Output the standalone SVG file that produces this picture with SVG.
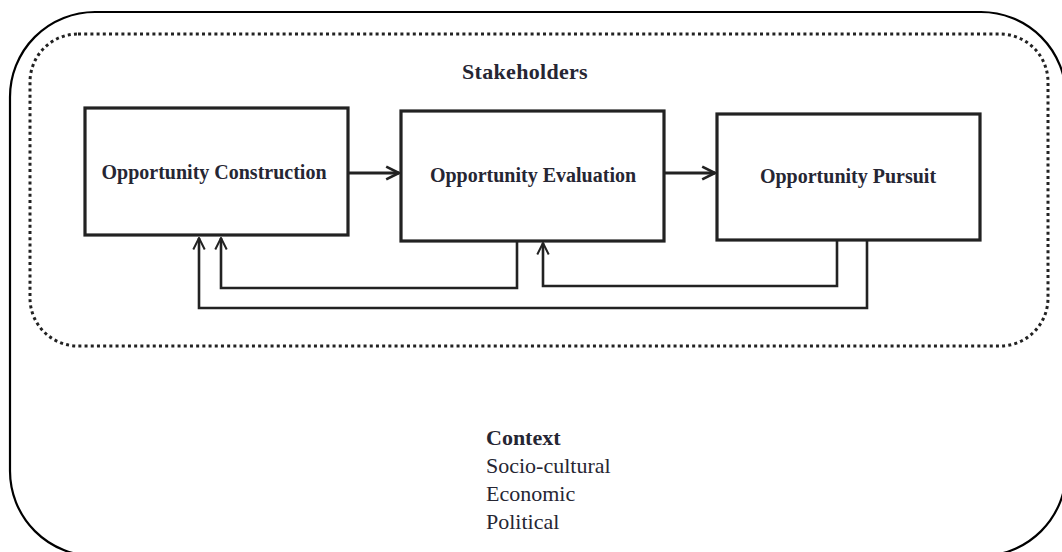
<svg xmlns="http://www.w3.org/2000/svg" width="1062" height="552" viewBox="0 0 1062 552">
  <style>
    .frame { fill: none; stroke: #000; stroke-width: 2.2; }
    .zone { fill: none; stroke: #222; stroke-width: 3; stroke-dasharray: 3 3.2; }
    .box { fill: #fff; stroke: #222; stroke-width: 3.2; }
    .flow { fill: none; stroke: #222; stroke-width: 3.2; }
    .back { fill: none; stroke: #222; stroke-width: 2.6; }
    .label { font-family: "Liberation Serif", "Times New Roman", serif; font-weight: bold; font-size: 20px; fill: #262633; text-anchor: middle; }
    .title { font-family: "Liberation Serif", "Times New Roman", serif; font-weight: bold; font-size: 22px; fill: #262633; }
    .item { font-family: "Liberation Serif", "Times New Roman", serif; font-size: 22px; fill: #262633; }
  </style>
  <defs>
    <marker id="head" viewBox="0 0 10 10" refX="9" refY="5" markerWidth="5" markerHeight="5" markerUnits="strokeWidth" orient="auto">
      <path d="M1,1 L9,5 L1,9" fill="none" stroke="#222" stroke-width="1.7"/>
    </marker>
    <marker id="headThin" viewBox="0 0 10 10" refX="9" refY="5" markerWidth="5.5" markerHeight="6" markerUnits="strokeWidth" orient="auto">
      <path d="M1,1 L9,5 L1,9" fill="none" stroke="#222" stroke-width="1.4"/>
    </marker>
  </defs>

  <rect width="1062" height="552" fill="#fff"/>

  <!-- context frame -->
  <g id="context">
    <rect class="frame" x="10" y="12" width="1056" height="544" rx="85" ry="85"/>
    <text class="title" x="486" y="445">Context</text>
    <text class="item" x="486" y="473">Socio-cultural</text>
    <text class="item" x="486" y="501">Economic</text>
    <text class="item" x="486" y="529">Political</text>
  </g>

  <!-- stakeholder zone -->
  <g id="stakeholders">
    <rect class="zone" x="30" y="34" width="1018" height="312" rx="48" ry="48"/>
    <text class="title" x="525" y="79" text-anchor="middle" letter-spacing="0.3">Stakeholders</text>
  </g>

  <g id="construction">
    <rect class="box" x="85" y="108" width="263" height="127"/>
    <text class="label" x="214" y="179">Opportunity Construction</text>
  </g>

  <g id="evaluation">
    <rect class="box" x="401" y="111" width="263" height="130"/>
    <text class="label" x="533" y="182">Opportunity Evaluation</text>
  </g>

  <g id="pursuit">
    <rect class="box" x="717" y="114" width="263" height="126"/>
    <text class="label" x="848" y="183">Opportunity Pursuit</text>
  </g>

  <g id="connectors">
    <line class="flow" x1="348" y1="173" x2="399" y2="173" marker-end="url(#head)"/>
    <line class="flow" x1="664" y1="173" x2="715" y2="173" marker-end="url(#head)"/>
    <polyline class="back" points="517,241 517,288 221,288 221,238" marker-end="url(#headThin)"/>
    <polyline class="back" points="837,240 837,286 543,286 543,243" marker-end="url(#headThin)"/>
    <polyline class="back" points="867,240 867,308 199,308 199,238" marker-end="url(#headThin)"/>
  </g>
</svg>
